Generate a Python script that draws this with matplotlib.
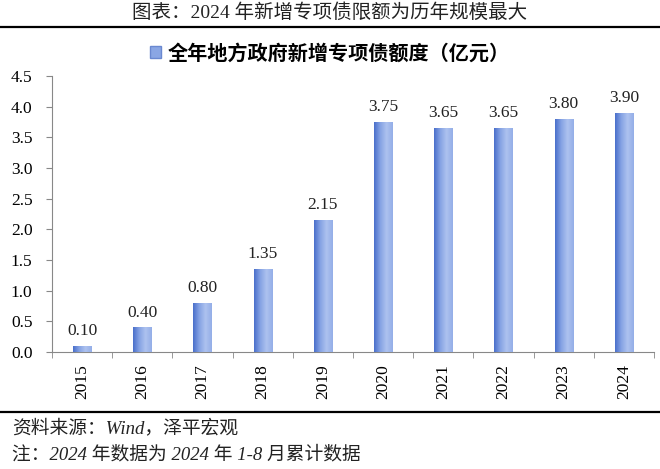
import numpy as np
import matplotlib.pyplot as plt
from matplotlib.colors import LinearSegmentedColormap
from matplotlib.lines import Line2D
from matplotlib.patches import Patch

plt.rcParams['font.family'] = ['Liberation Serif', 'Noto Sans CJK SC']

years = ['2015', '2016', '2017', '2018', '2019', '2020', '2021', '2022', '2023', '2024']
values = [0.10, 0.40, 0.80, 1.35, 2.15, 3.75, 3.65, 3.65, 3.80, 3.90]

fig = plt.figure(figsize=(6.6, 4.69), dpi=100)
ax = fig.add_axes([52 / 660, 1 - 352 / 469, 602 / 660, 276 / 469])

x = np.arange(len(years))
bars = ax.bar(x, values, width=0.3, color='#7f9fe0', zorder=2)

# horizontal gradient inside each bar (darker edge on the left, light centre)
cmap = LinearSegmentedColormap.from_list('bar', ['#4a6fcb', '#86a3e4', '#adc2ef', '#94aee8'])
grad = np.linspace(0, 1, 64).reshape(1, -1)
for b in bars:
    x0, w, h = b.get_x(), b.get_width(), b.get_height()
    im = ax.imshow(grad, cmap=cmap, extent=[x0, x0 + w, 0, h], aspect='auto', zorder=3)
    im.set_clip_path(b)

for xi, v in zip(x, values):
    ax.text(xi, v + 0.11, f'{v:.2f}', ha='center', va='bottom', fontsize=12.5, color='#222222')

yt = np.arange(0, 4.51, 0.5)
ax.set_xlim(-0.5, len(years) - 0.5)
ax.set_ylim(0, 4.5)
ax.set_yticks(yt)
ax.set_yticklabels([f'{t:.1f}' for t in yt], fontsize=12.5)
ax.set_xticks(x)
ax.set_xticklabels(years, rotation=90, fontsize=12.5)
ax.set_xticks(np.arange(-0.5, len(years), 1), minor=True)
ax.tick_params(axis='x', which='major', length=0, pad=9)
ax.tick_params(axis='x', which='minor', length=4, color='#888888', direction='out')
ax.tick_params(axis='y', length=4, color='#888888', direction='out', pad=10)
for s in ['top', 'right']:
    ax.spines[s].set_visible(False)
for s in ['left', 'bottom']:
    ax.spines[s].set_color('#888888')

fig.legend(handles=[Patch(facecolor='#8aa6e4', edgecolor='#6a88d0')],
           labels=['全年地方政府新增专项债额度（亿元）'],
           loc='center', bbox_to_anchor=(0.5, 1 - 53 / 469), frameon=False,
           handlelength=0.55, handleheight=0.55, handletextpad=0.3,
           prop={'family': ['Noto Sans CJK SC'], 'weight': 'bold', 'size': 14.5})

fig.text(0.5, 1 - 13 / 469, '图表：2024 年新增专项债限额为历年规模最大', ha='center', va='center',
         fontsize=14, color='#222222')
fig.add_artist(Line2D([0, 1], [1 - 27 / 469] * 2, color='black', lw=1.6))
fig.add_artist(Line2D([0, 1], [1 - 412 / 469] * 2, color='black', lw=1.6))
fig.text(12 / 660, 1 - 428 / 469, '资料来源：Wind，泽平宏观', ha='left', va='center',
         fontsize=13.5, style='italic', color='#222222')
fig.text(12 / 660, 1 - 455 / 469, '注：2024 年数据为 2024 年 1-8 月累计数据', ha='left', va='center',
         fontsize=13.5, style='italic', color='#222222')

fig.savefig('out.png', dpi=100)
